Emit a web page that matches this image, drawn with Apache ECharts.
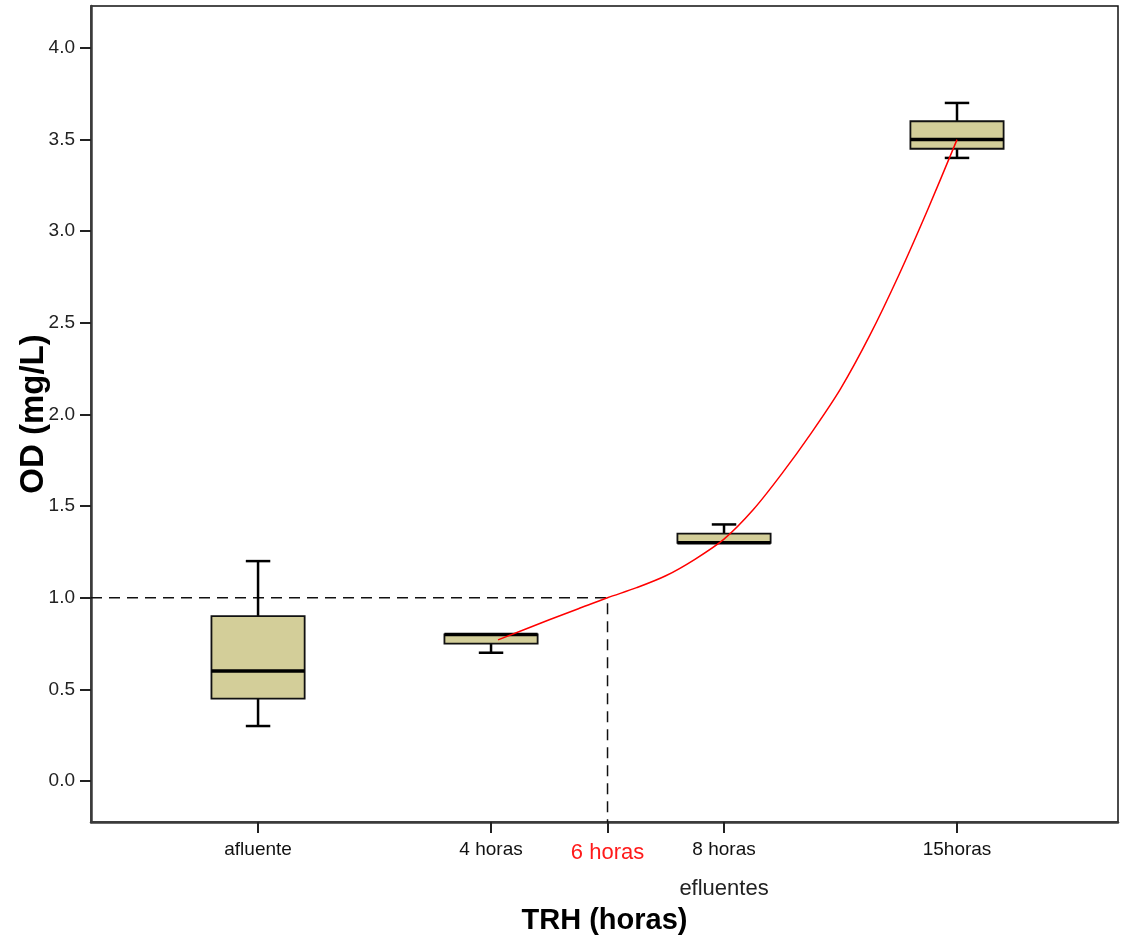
<!DOCTYPE html>
<html>
<head>
<meta charset="utf-8">
<script src="https://cdn.jsdelivr.net/npm/echarts@6/dist/echarts.min.js"></script>
<style>
html,body{margin:0;padding:0;background:#fff;}
#chart{width:1125px;height:941px;}
</style>
</head>
<body>
<div id="chart"></div>
<script>
// ---- data ----
const categories = ['afluente', '4 horas', '8 horas', '15horas'];
const categoryPos = [1, 2, 3, 4];
const boxMin    = [0.30, 0.70, 1.30, 3.40];
const boxQ1     = [0.45, 0.75, 1.30, 3.45];
const boxMedian = [0.60, 0.80, 1.30, 3.50];
const boxQ3     = [0.90, 0.80, 1.35, 3.60];
const boxMax    = [1.20, 0.80, 1.40, 3.70];

// red fitted curve (x in category units, y in mg/L)
const curveX = [2.03, 2.25, 2.375, 2.50, 2.625, 2.75, 2.875, 3.00, 3.125, 3.25, 3.375, 3.50, 3.625, 3.75, 3.875, 4.00];
const curveY = [0.77, 0.88, 0.94, 1.00, 1.055, 1.12, 1.21, 1.32, 1.48, 1.68, 1.90, 2.14, 2.43, 2.76, 3.12, 3.50];

const thresholdY = 1.0;
const thresholdX = 2.5;
const thresholdLabel = '6 horas';
const groupLabel = 'efluentes';

const yTicks = [0, 0.5, 1.0, 1.5, 2.0, 2.5, 3.0, 3.5, 4.0];
const xMin = 0.283, xMax = 4.691;
const yMin = -0.2237, yMax = 4.229;

const FONT = '"Liberation Sans", Arial, sans-serif';

const boxData = categories.map((c, i) => [categoryPos[i], boxMin[i], boxQ1[i], boxMedian[i], boxQ3[i], boxMax[i]]);
const curveData = curveX.map((x, i) => [x, curveY[i]]);
const dashData = [[xMin, thresholdY], [thresholdX, thresholdY], [thresholdX, yMin]];

const BOX_W = 0.40, CAP_W = 0.105;

function renderBox(params, api) {
  const x = api.value(0);
  const mn = api.value(1), q1 = api.value(2), md = api.value(3), q3 = api.value(4), mx = api.value(5);
  const pTopL = api.coord([x - BOX_W / 2, q3]);
  const pBotR = api.coord([x + BOX_W / 2, q1]);
  const pMax = api.coord([x, mx]);
  const pMin = api.coord([x, mn]);
  const pMed = api.coord([x, md]);
  const capHalf = api.size([CAP_W, 0])[0] / 2;
  const cx = pMax[0];
  const lineStyle = { stroke: '#000', lineWidth: 2.5 };
  return {
    type: 'group',
    children: [
      { type: 'line', shape: { x1: cx, y1: pMax[1], x2: cx, y2: pTopL[1] }, style: lineStyle },
      { type: 'line', shape: { x1: cx, y1: pBotR[1], x2: cx, y2: pMin[1] }, style: lineStyle },
      { type: 'line', shape: { x1: cx - capHalf, y1: pMax[1], x2: cx + capHalf, y2: pMax[1] }, style: lineStyle },
      { type: 'line', shape: { x1: cx - capHalf, y1: pMin[1], x2: cx + capHalf, y2: pMin[1] }, style: lineStyle },
      { type: 'rect', shape: { x: pTopL[0], y: pTopL[1], width: pBotR[0] - pTopL[0], height: pBotR[1] - pTopL[1] },
        style: { fill: '#D3CE99', stroke: '#111', lineWidth: 1.8 } },
      { type: 'line', shape: { x1: pTopL[0], y1: pMed[1], x2: pBotR[0], y2: pMed[1] }, style: { stroke: '#000', lineWidth: 3.5 } }
    ]
  };
}

const chart = echarts.init(document.getElementById('chart'), null, { renderer: 'canvas' });
chart.setOption({
  backgroundColor: '#fff',
  animation: false,
  grid: { left: 91, right: 7, top: 6, bottom: 119, containLabel: false, outerBoundsMode: 'none',
          show: true, borderColor: '#111', borderWidth: 1.5, backgroundColor: 'transparent' },
  xAxis: {
    type: 'value', min: xMin, max: xMax,
    name: 'TRH (horas)', nameLocation: 'middle', nameGap: 84,
    nameTextStyle: { fontFamily: FONT, fontSize: 29, fontWeight: 'bold', color: '#000' },
    axisLine: { show: true, onZero: false, lineStyle: { color: '#3a3a3a', width: 2.5 } },
    axisTick: { show: true, length: 11, customValues: categoryPos.concat([thresholdX]), lineStyle: { color: '#222', width: 2 } },
    splitLine: { show: false },
    axisLabel: {
      customValues: categoryPos.concat([thresholdX]),
      margin: 17,
      fontFamily: FONT,
      formatter: function (v) {
        if (Math.abs(v - thresholdX) < 1e-6) return '{r|' + thresholdLabel + '}';
        const i = categoryPos.indexOf(v);
        if (i < 0) return '';
        if (i === 2) return '{n|' + categories[i] + '}\n{e|' + groupLabel + '}';
        return '{n|' + categories[i] + '}';
      },
      rich: {
        n: { fontFamily: FONT, fontSize: 19, color: '#111', lineHeight: 22 },
        r: { fontFamily: FONT, fontSize: 22, color: '#ff1a1a', lineHeight: 28 },
        e: { fontFamily: FONT, fontSize: 22, color: '#222', lineHeight: 56 }
      }
    }
  },
  yAxis: {
    type: 'value', min: yMin, max: yMax,
    name: 'OD (mg/L)', nameLocation: 'middle', nameGap: 41, nameRotate: 90, nameMoveOverlap: false,
    nameTextStyle: { fontFamily: FONT, fontSize: 33, fontWeight: 'bold', color: '#000' },
    axisLine: { show: true, onZero: false, lineStyle: { color: '#3a3a3a', width: 2.5 } },
    axisTick: { show: true, length: 11, customValues: yTicks, lineStyle: { color: '#222', width: 2 } },
    splitLine: { show: false },
    axisLabel: {
      customValues: yTicks, margin: 16,
      fontFamily: FONT, fontSize: 19, color: '#222',
      formatter: v => v.toFixed(1)
    }
  },
  series: [
    {
      type: 'line', data: dashData, symbol: 'none', silent: true,
      lineStyle: { color: '#111', width: 1.5, type: [11, 7] }, z: 1
    },
    {
      type: 'custom', data: boxData, renderItem: renderBox,
      encode: { x: 0, y: [1, 2, 3, 4, 5] }, z: 2
    },
    {
      type: 'line', data: curveData, symbol: 'none', smooth: 0.3, silent: true,
      lineStyle: { color: '#ff0000', width: 1.5 }, z: 3
    }
  ]
});
</script>
</body>
</html>
